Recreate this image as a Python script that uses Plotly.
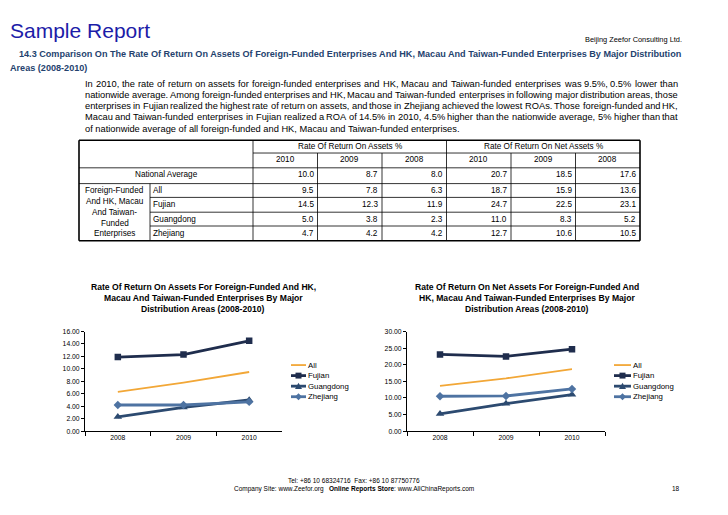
import plotly.graph_objects as go

# page is drawn inside the browser's 8px body margin
OX, OY = 8, 8
W, H = 720, 507

# ---------------- data ----------------
table_years = ["2010", "2009", "2008"]
chart_years = ["2008", "2009", "2010"]
regions = ["All", "Fujian", "Guangdong", "Zhejiang"]

roa_national = [10.0, 8.7, 8.0]
roa_all = [9.5, 7.8, 6.3]
roa_fujian = [14.5, 12.3, 11.9]
roa_guangdong = [5.0, 3.8, 2.3]
roa_zhejiang = [4.7, 4.2, 4.2]

rona_national = [20.7, 18.5, 17.6]
rona_all = [18.7, 15.9, 13.6]
rona_fujian = [24.7, 22.5, 23.1]
rona_guangdong = [11.0, 8.3, 5.2]
rona_zhejiang = [12.7, 10.6, 10.5]

series_colors = ["#f2a737", "#1f2d4d", "#2c4a70", "#4e73a2"]
series_symbols = [None, "square", "triangle-up", "diamond"]

paragraph = [
    "In 2010, the rate of return on assets for foreign-funded enterprises and HK, Macau and Taiwan-funded enterprises was 9.5%, 0.5% lower than",
    "nationwide average. Among foreign-funded enterprises and HK, Macau and Taiwan-funded enterprises in following major distribution areas, those",
    "enterprises in Fujian realized the highest rate of return on assets, and those in Zhejiang achieved the lowest ROAs. Those foreign-funded and HK,",
    "Macau and Taiwan-funded enterprises in Fujian realized a ROA of 14.5% in 2010, 4.5% higher than the nationwide average, 5% higher than that",
    "of nationwide average of all foreign-funded and HK, Macau and Taiwan-funded enterprises.",
]

# Arial / Liberation Sans advance widths (1/1000 em) for justification
CW = {" ": 278, ",": 278, ".": 278, "%": 889, "-": 333, "(": 333, ")": 333, "'": 191,
      "a": 556, "b": 556, "c": 500, "d": 556, "e": 556, "f": 278, "g": 556, "h": 556, "i": 222,
      "j": 222, "k": 500, "l": 222, "m": 833, "n": 556, "o": 556, "p": 556, "q": 556, "r": 333,
      "s": 500, "t": 278, "u": 556, "v": 500, "w": 722, "x": 500, "y": 500, "z": 500,
      "A": 667, "B": 667, "C": 722, "D": 722, "E": 667, "F": 611, "G": 778, "H": 722, "I": 278,
      "J": 500, "K": 667, "L": 556, "M": 833, "N": 722, "O": 778, "P": 667, "Q": 778, "R": 722,
      "S": 667, "T": 611, "U": 722, "V": 667, "W": 944, "X": 667, "Y": 667, "Z": 611}


def tw(s, size):
    return sum(CW.get(ch, 556) for ch in s) / 1000.0 * size


def px(x):
    return (x - OX) / W


def py(y):
    return 1 - (y - OY) / H


FONT = "Liberation Sans, Arial, sans-serif"
fig = go.Figure()
ann = []
shapes = []


def text(x, y, s, size=8, color="black", anchor="left", bold=False):
    if bold:
        s = "<b>" + s + "</b>"
    ann.append(dict(x=px(x), y=py(y), xref="paper", yref="paper", text=s,
                    showarrow=False, xanchor=anchor, yanchor="middle", borderpad=0,
                    font=dict(family=FONT, size=size, color=color)))


def line(x0, y0, x1, y1, w=0.8, color="black"):
    shapes.append(dict(type="line", xref="paper", yref="paper",
                       x0=px(x0), y0=py(y0), x1=px(x1), y1=py(y1),
                       line=dict(color=color, width=w)))


# ---------------- header ----------------
text(9, 27, "Sample Report", size=21, color="#1c1ca8")
text(683, 36, "Beijing Zeefor Consulting Ltd.", size=7.4, anchor="right")
text(18, 51, "14.3 Comparison On The Rate Of Return On Assets Of Foreign-Funded Enterprises And HK, Macau And Taiwan-Funded Enterprises By Major Distribution",
     size=9.1, color="#24426e", bold=True)
text(9, 65, "Areas (2008-2010)", size=9.1, color="#24426e", bold=True)

# justified paragraph
PS = 9.3
PL, PR = 84, 677
for i, s in enumerate(paragraph):
    yy = 81 + i * 11.3
    if i == len(paragraph) - 1:
        text(PL, yy, s, size=PS)
        continue
    words = s.split(" ")
    total = sum(tw(w_, PS) for w_ in words)
    gap = (PR - PL - total) / (len(words) - 1)
    xx = PL
    for w_ in words:
        text(xx, yy, w_, size=PS)
        xx += tw(w_, PS) + gap

# ---------------- table ----------------
TS = 8.2
tl, tsub, tlab, tr = 79, 150, 253, 640
cw = (tr - tlab) / 6
ytop, yh1, yh2, yna = 138, 151, 166, 182
row_b = [182, 196, 211, 225, 240]
ybot = row_b[-1]

for (a, b, c, d) in [(tl, ytop, tr, ytop), (tl, ybot, tr, ybot), (tl, ytop, tl, ybot), (tr, ytop, tr, ybot)]:
    line(a, b, c, d, w=1.6)
line(tlab, ytop, tlab, ybot)
line(tlab, yh1, tr, yh1)
line(tl, yh2, tr, yh2)
line(tl, yna, tr, yna)
for k in range(1, 6):
    line(tlab + k * cw, ytop if k == 3 else yh1, tlab + k * cw, ybot)
line(tsub, yna, tsub, ybot)
for yb in row_b[1:-1]:
    line(tsub, yb, tr, yb)

text(tlab + 1.5 * cw, (ytop + yh1) / 2 - 0.5, "Rate Of Return On Assets %", size=TS, anchor="center")
text(tlab + 4.5 * cw, (ytop + yh1) / 2 - 0.5, "Rate Of Return On Net Assets %", size=TS, anchor="center")
for g in range(2):
    for k, yr in enumerate(table_years):
        text(tlab + (g * 3 + k + 0.5) * cw, (yh1 + yh2) / 2 - 0.5, yr, size=TS, anchor="center")

text((tl + tlab) / 2, (yh2 + yna) / 2 - 1, "National Average", size=TS, anchor="center")
for k in range(3):
    text(tlab + (k + 1) * cw - 3, (yh2 + yna) / 2 - 1, f"{roa_national[k]:.1f}", size=TS, anchor="right")
    text(tlab + (k + 4) * cw - 3, (yh2 + yna) / 2 - 1, f"{rona_national[k]:.1f}", size=TS, anchor="right")

roa_rows = [roa_all, roa_fujian, roa_guangdong, roa_zhejiang]
rona_rows = [rona_all, rona_fujian, rona_guangdong, rona_zhejiang]
for r, name in enumerate(regions):
    yc = (row_b[r] + row_b[r + 1]) / 2
    text(tsub + 2, yc, name, size=TS)
    for k in range(3):
        text(tlab + (k + 1) * cw - 3, yc, f"{roa_rows[r][k]:.1f}", size=TS, anchor="right")
        text(tlab + (k + 4) * cw - 3, yc, f"{rona_rows[r][k]:.1f}", size=TS, anchor="right")

group_lines = ["Foreign-Funded", "And HK, Macau", "And Taiwan-", "Funded", "Enterprises"]
for i, s in enumerate(group_lines):
    text((tl + tsub) / 2, 189 + i * 11, s, size=TS, anchor="center")

# ---------------- charts ----------------
charts = [
    dict(vals=roa_rows, xa="x", ya="y", x0=85, x1=282, y0=332, y1=433, rng=[0, 16], dt=2,
         title=["Rate Of Return On Assets For Foreign-Funded And HK,",
                "Macau And Taiwan-Funded Enterprises By Major",
                "Distribution Areas (2008-2010)"],
         tx=203, lx0=291, lx1=306),
    dict(vals=rona_rows, xa="x2", ya="y2", x0=407, x1=605, y0=332, y1=433, rng=[0, 30], dt=5,
         title=["Rate Of Return On Net Assets For Foreign-Funded And",
                "HK, Macau And Taiwan-Funded Enterprises By Major",
                "Distribution Areas (2008-2010)"],
         tx=527, lx0=614, lx1=631),
]

for ci, c in enumerate(charts):
    for s, name in enumerate(regions):
        yv = c["vals"][s][::-1]
        mode = "lines" if series_symbols[s] is None else "lines+markers"
        fig.add_trace(go.Scatter(
            x=chart_years, y=yv, xaxis=c["xa"], yaxis=c["ya"], mode=mode, name=name,
            line=dict(color=series_colors[s], width=1.8 if s == 0 else 2.8),
            marker=dict(symbol=series_symbols[s] or "circle", size=6.5 if s != 2 else 7.5,
                        color=series_colors[s]),
            showlegend=False, hoverinfo="skip"))
    axkey = "xaxis" if ci == 0 else "xaxis2"
    aykey = "yaxis" if ci == 0 else "yaxis2"
    fig.layout[axkey] = dict(domain=[px(c["x0"]), px(c["x1"])], anchor=c["ya"], type="category",
                             range=[-0.5, 2.5], showline=True, linecolor="black", linewidth=1,
                             ticks="outside", tickson="boundaries", ticklen=4, tickcolor="black",
                             tickfont=dict(family=FONT, size=6.8, color="black"),
                             showgrid=False, zeroline=False, fixedrange=True)
    fig.layout[aykey] = dict(domain=[py(c["y1"]), py(c["y0"])], anchor=c["xa"], range=c["rng"],
                             dtick=c["dt"], tickformat=".2f", showline=True, linecolor="black",
                             linewidth=1, ticks="outside", ticklen=3, tickcolor="black",
                             tickfont=dict(family=FONT, size=6.8, color="black"),
                             showgrid=False, zeroline=False, fixedrange=True)
    for i, t in enumerate(c["title"]):
        text(c["tx"], 287 + i * 11.3, t, size=8.6, anchor="center", bold=True)
    # legend keys
    for s, name in enumerate(regions):
        ly = 366 + s * 10.7
        col = series_colors[s]
        line(c["lx0"], ly, c["lx1"], ly, w=1.8 if s == 0 else 2.8, color=col)
        cx = (c["lx0"] + c["lx1"]) / 2
        if series_symbols[s] == "square":
            shapes.append(dict(type="rect", xref="paper", yref="paper", x0=px(cx - 3), x1=px(cx + 3),
                               y0=py(ly + 3), y1=py(ly - 3), fillcolor=col, line=dict(width=0)))
        elif series_symbols[s] == "triangle-up":
            shapes.append(dict(type="path", xref="paper", yref="paper",
                               path=f"M {px(cx-3.5)},{py(ly+3)} L {px(cx+3.5)},{py(ly+3)} L {px(cx)},{py(ly-3.5)} Z",
                               fillcolor=col, line=dict(width=0)))
        elif series_symbols[s] == "diamond":
            shapes.append(dict(type="path", xref="paper", yref="paper",
                               path=f"M {px(cx-3.5)},{py(ly)} L {px(cx)},{py(ly-3.5)} L {px(cx+3.5)},{py(ly)} L {px(cx)},{py(ly+3.5)} Z",
                               fillcolor=col, line=dict(width=0)))
        text(c["lx1"] + 1, ly, name, size=7.8)

# ---------------- footer ----------------
text(354, 483, "Tel: +86 10 68324716  Fax: +86 10 87750776", size=6.5, anchor="center")
text(354, 492, "Company Site: www.Zeefor.org   <b>Online Reports Store</b>: www.AllChinaReports.com",
     size=6.5, anchor="center")
text(681, 491, "18", size=6.5, anchor="right")

fig.update_layout(width=W, height=H, margin=dict(l=0, r=0, t=0, b=0), autosize=False,
                  paper_bgcolor="white", plot_bgcolor="white", showlegend=False,
                  annotations=ann, shapes=shapes)

fig.write_html("out.html")
